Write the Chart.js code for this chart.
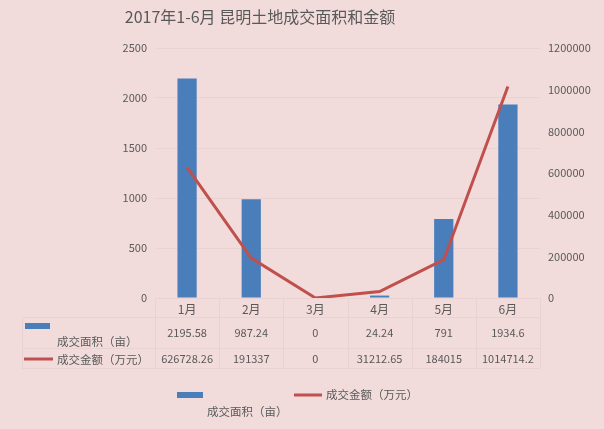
<!DOCTYPE html>
<html>
<head>
<meta charset="utf-8">
<script src="https://cdn.jsdelivr.net/npm/chart.js@4.4.1/dist/chart.umd.min.js"></script>
<style>
  html, body { margin: 0; padding: 0; background: #f2dcdb; }
</style>
</head>
<body>
<canvas id="grafico" width="604" height="429"></canvas>
<script>
const titulo = '2017年1-6月 昆明土地成交面积和金额';
const meses = ['1月', '2月', '3月', '4月', '5月', '6月'];
const areas = [2195.58, 987.24, 0, 24.24, 791, 1934.6];
const valores = [626728.26, 191337, 0, 31212.65, 184015, 1014714.2];
const nomeArea = '成交面积（亩）';
const nomeValor = '成交金额（万元）';

const AZUL = '#4a7ebb';
const VERMELHO = '#c0504d';
const TEXTO = '#595959';
const LINHA = '#e8d3d2';
const FONTE = '"Noto Sans CJK SC", "Liberation Sans", sans-serif';

// fundo, titulo, tabela de dados e legenda
const extras = {
    id: 'extras',
    beforeDraw(chart) {
        const ctx = chart.ctx;
        ctx.save();
        ctx.fillStyle = '#f2dcdb';
        ctx.fillRect(0, 0, chart.width, chart.height);
        ctx.restore();
    },
    afterDraw(chart) {
        const ctx = chart.ctx;
        const x = chart.scales.x;
        const area = chart.chartArea;
        const n = meses.length;
        const larg = (x.right - x.left) / n;
        const topo = area.bottom, l1 = 317, l2 = 348, fim = 368, esq = 22;
        ctx.save();

        // titulo
        ctx.fillStyle = TEXTO;
        ctx.font = '16px ' + FONTE;
        ctx.textAlign = 'center';
        ctx.textBaseline = 'middle';
        ctx.fillText(titulo, 260, 17);

        // linhas da tabela
        ctx.strokeStyle = LINHA;
        ctx.lineWidth = 1;
        ctx.beginPath();
        ctx.moveTo(x.left, topo + 0.5); ctx.lineTo(x.right, topo + 0.5);
        [l1, l2, fim].forEach(y => { ctx.moveTo(esq, y + 0.5); ctx.lineTo(x.right, y + 0.5); });
        ctx.moveTo(esq + 0.5, l1); ctx.lineTo(esq + 0.5, fim);
        for (let i = 0; i <= n; i++) {
            const px = Math.round(x.left + i * larg) + 0.5;
            ctx.moveTo(px, topo); ctx.lineTo(px, fim);
        }
        ctx.stroke();

        // valores
        ctx.fillStyle = TEXTO;
        ctx.font = '11px ' + FONTE;
        ctx.textAlign = 'center';
        meses.forEach((m, i) => {
            const cx = x.getPixelForValue(i);
            ctx.fillText(String(areas[i]), cx, 333);
            ctx.fillText(String(valores[i]), cx, 359);
        });

        // chaves da tabela
        ctx.fillStyle = AZUL;
        ctx.fillRect(25, 323, 25, 6);
        ctx.strokeStyle = VERMELHO;
        ctx.lineWidth = 3;
        ctx.beginPath(); ctx.moveTo(24, 359); ctx.lineTo(53, 359); ctx.stroke();
        ctx.fillStyle = TEXTO;
        ctx.textAlign = 'left';
        ctx.font = '11.5px ' + FONTE;
        ctx.fillText(nomeArea, 57, 342);
        ctx.fillText(nomeValor, 57, 360);

        // legenda de baixo
        ctx.fillStyle = AZUL;
        ctx.fillRect(177, 392, 26, 6);
        ctx.beginPath(); ctx.moveTo(294, 395); ctx.lineTo(322, 395); ctx.stroke();
        ctx.fillStyle = TEXTO;
        ctx.fillText(nomeArea, 207, 412);
        ctx.fillText(nomeValor, 326, 395);

        ctx.restore();
    }
};

const semVirgula = v => String(v);

const ctx = document.getElementById('grafico').getContext('2d');
window.chart = new Chart(ctx, {
    data: {
        labels: meses,
        datasets: [
            {
                type: 'line',
                label: nomeValor,
                data: valores,
                yAxisID: 'y2',
                borderColor: VERMELHO,
                borderWidth: 3,
                pointRadius: 0,
                tension: 0,
                order: 0
            },
            {
                type: 'bar',
                label: nomeArea,
                data: areas,
                yAxisID: 'y',
                backgroundColor: AZUL,
                categoryPercentage: 0.6,
                barPercentage: 0.5,
                order: 1
            }
        ]
    },
    options: {
        responsive: false,
        animation: false,
        layout: { padding: { top: 48, bottom: 111, left: 0, right: 0 } },
        plugins: {
            legend: { display: false },
            title: { display: false },
            tooltip: { enabled: false }
        },
        scales: {
            x: {
                grid: { display: false, drawTicks: false },
                border: { display: false },
                ticks: { color: TEXTO, font: { size: 12, family: FONTE }, padding: 4 },
                afterFit(s) { s.height = 20; }
            },
            y: {
                position: 'left',
                min: 0, max: 2500,
                ticks: { stepSize: 500, color: TEXTO, font: { size: 11, family: FONTE }, padding: 8, callback: semVirgula },
                grid: { color: LINHA, drawTicks: false },
                border: { display: false },
                afterFit(s) { s.width = 155; }
            },
            y2: {
                position: 'right',
                min: 0, max: 1200000,
                ticks: { stepSize: 200000, color: TEXTO, font: { size: 11, family: FONTE }, padding: 8, callback: semVirgula },
                grid: { drawOnChartArea: false, drawTicks: false },
                border: { display: false },
                afterFit(s) { s.width = 64; }
            }
        }
    },
    plugins: [extras]
});
</script>
</body>
</html>
